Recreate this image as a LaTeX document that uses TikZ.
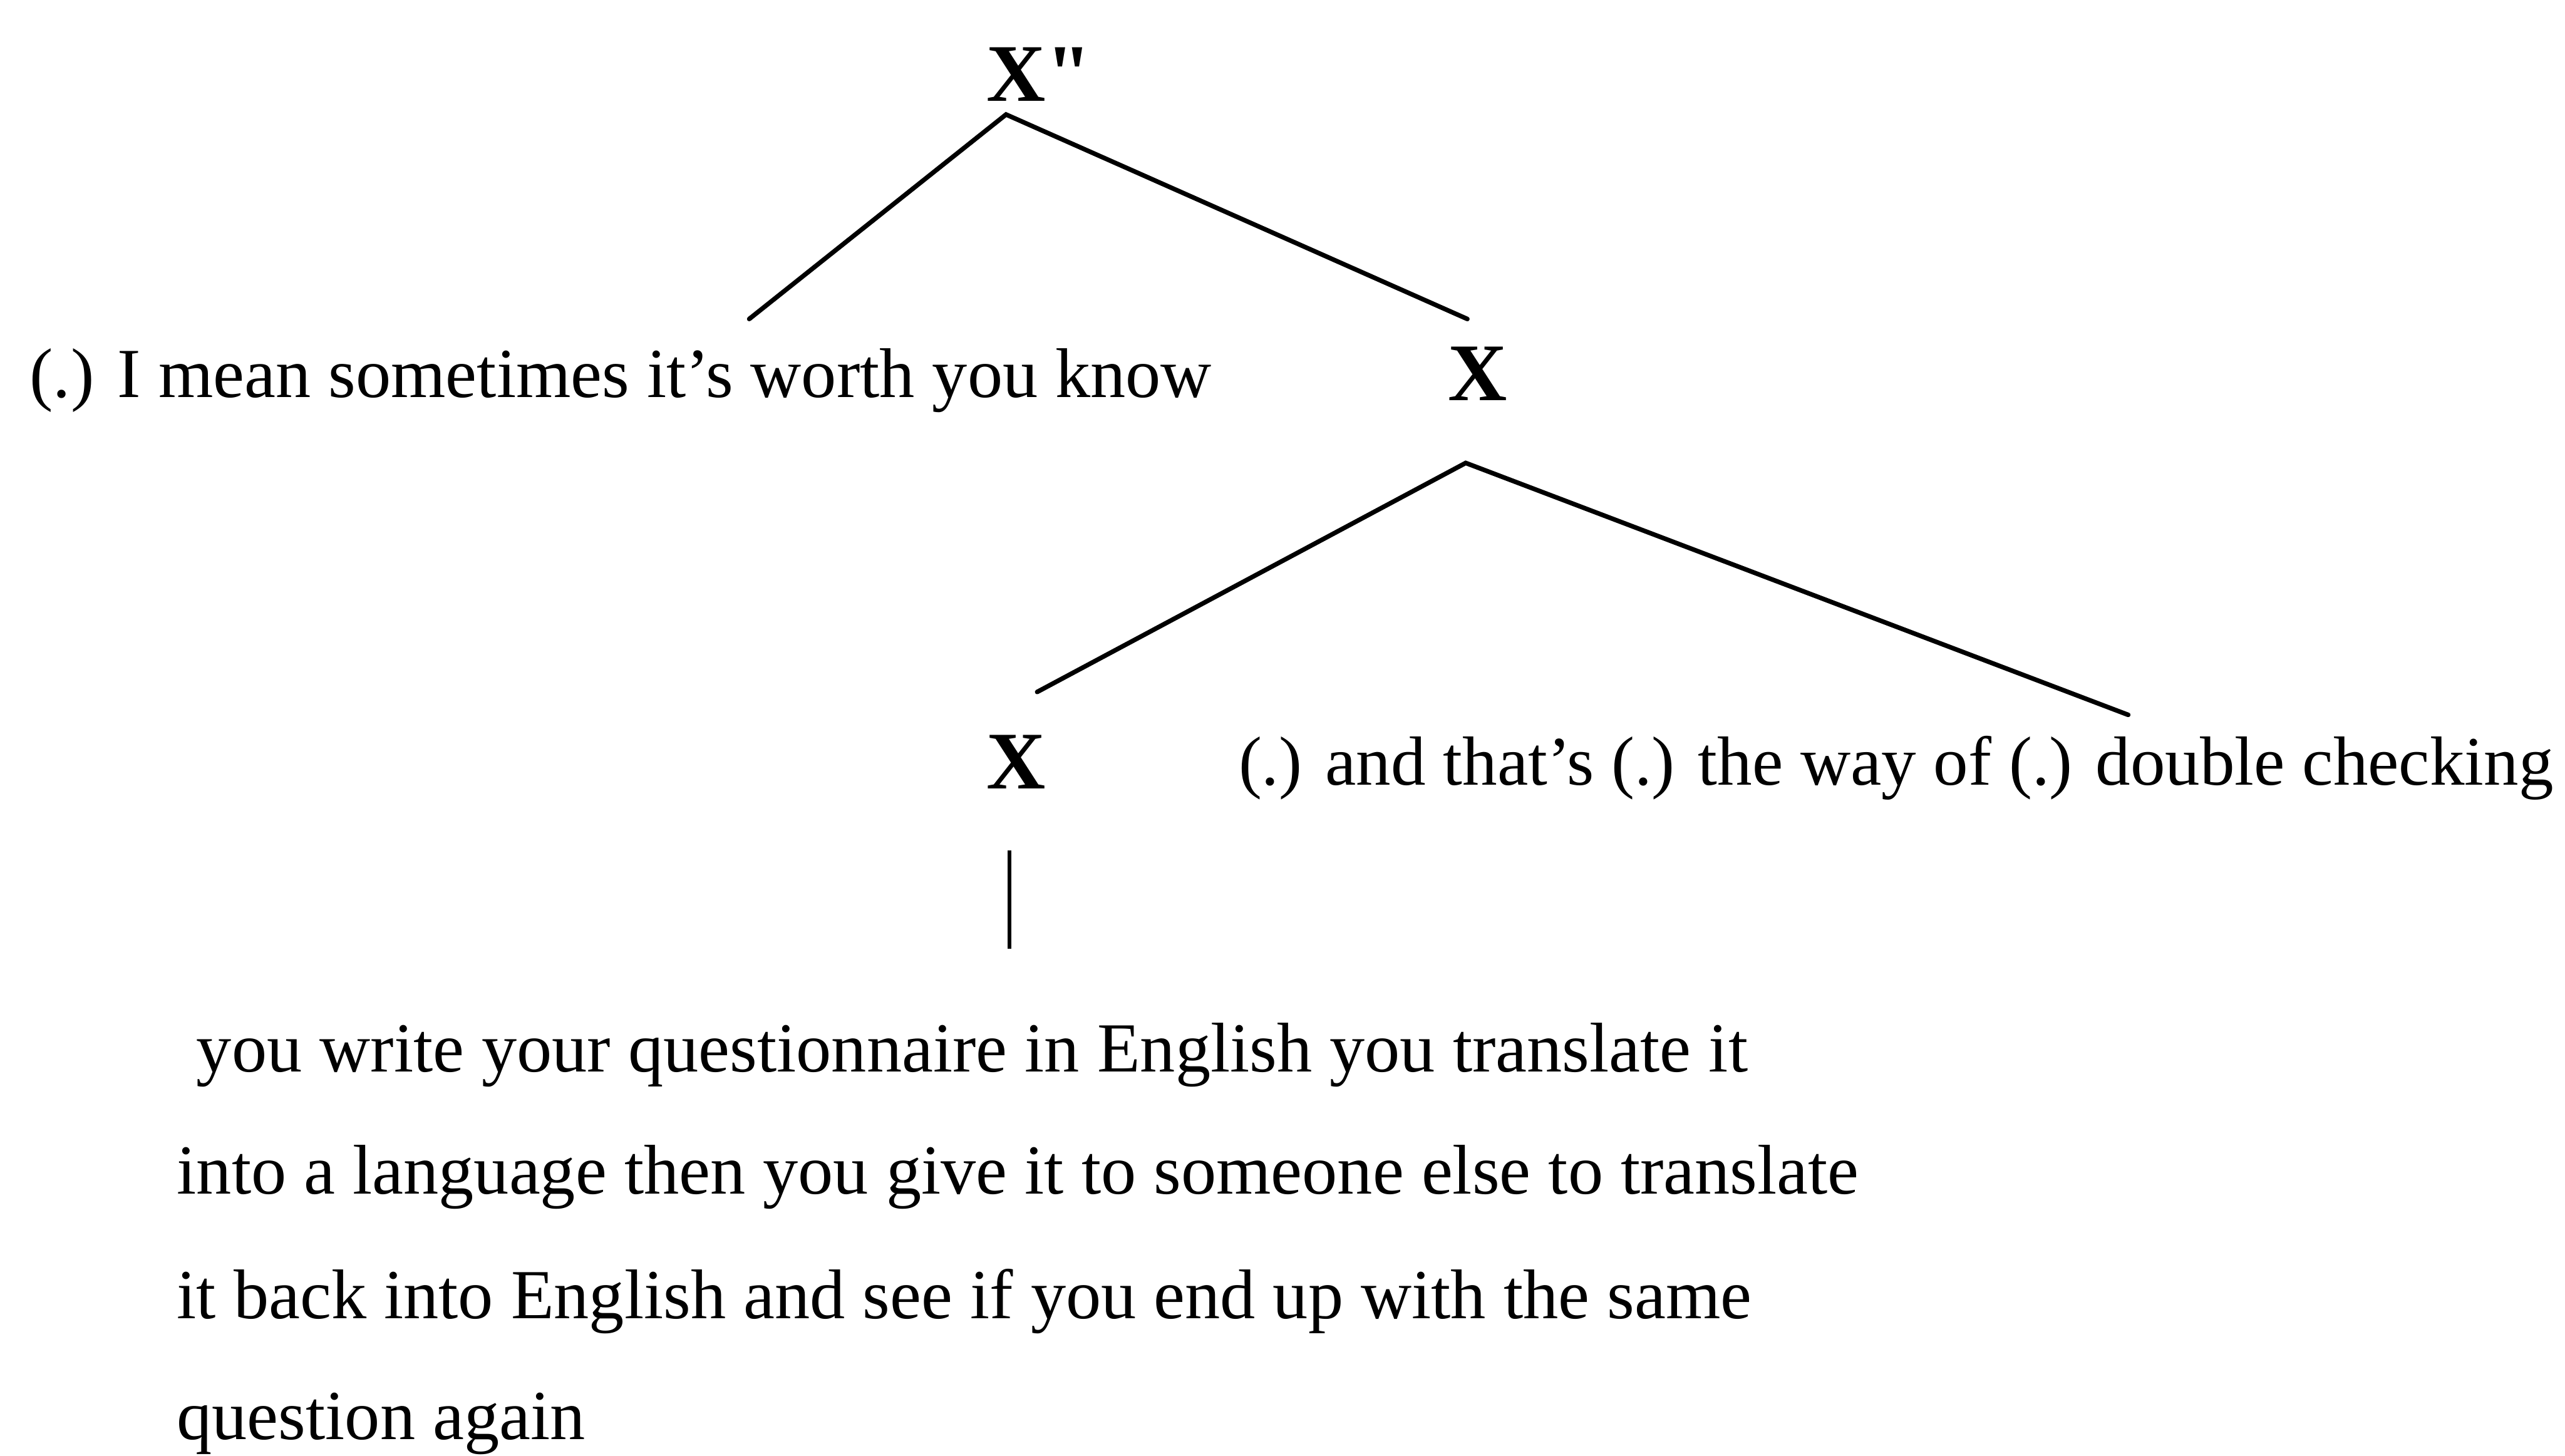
\documentclass[tikz,border=0pt]{standalone}
\usepackage{fontspec}
\setmainfont{Liberation Serif}
\newfontfamily\plainserif[Ligatures=TeXOff]{Liberation Serif}
\begin{document}
\begin{tikzpicture}[x=1pt,y=-1pt,
  txt/.style={anchor=base west,inner sep=0pt,font=\fontsize{43}{50}\selectfont},
  cat/.style={anchor=base west,inner sep=0pt,font=\fontsize{50}{58}\selectfont\bfseries},
  branch/.style={line width=2.8pt,line cap=round},
  stem/.style={line width=2.2pt}]
\useasboundingbox (0,0) rectangle (1568,890);
\node[cat] (xtop) at (603,62) {\plainserif\bfseries X"};
\node[txt] (left) at (18,243) {(.) I mean sometimes it's worth you know};
\node[cat] (xmid) at (885,245) {X};
\node[cat] (xlow) at (603,482) {X};
\node[txt,font=\fontsize{42.5}{50}\selectfont] (right) at (757,480) {(.) and that's (.) the way of (.) double checking};
\node[txt] (p1) at (120,655) {you write your questionnaire in English you translate it};
\node[txt] (p2) at (108,730) {into a language then you give it to someone else to translate};
\node[txt] (p3) at (108,806) {it back into English and see if you end up with the same};
\node[txt] (p4) at (108,880) {question again};
\coordinate (a0) at (615,70);
\coordinate (a1) at (458,195);
\coordinate (a2) at (897,195);
\coordinate (b0) at (896,283);
\coordinate (b1) at (634,423);
\coordinate (b2) at (1301,437);
\coordinate (c0) at (617,520);
\coordinate (c1) at (617,580);
\draw[branch] (a1) -- (a0) -- (a2);
\draw[branch] (b1) -- (b0) -- (b2);
\draw[stem] (c0) -- (c1);
\end{tikzpicture}
\end{document}
